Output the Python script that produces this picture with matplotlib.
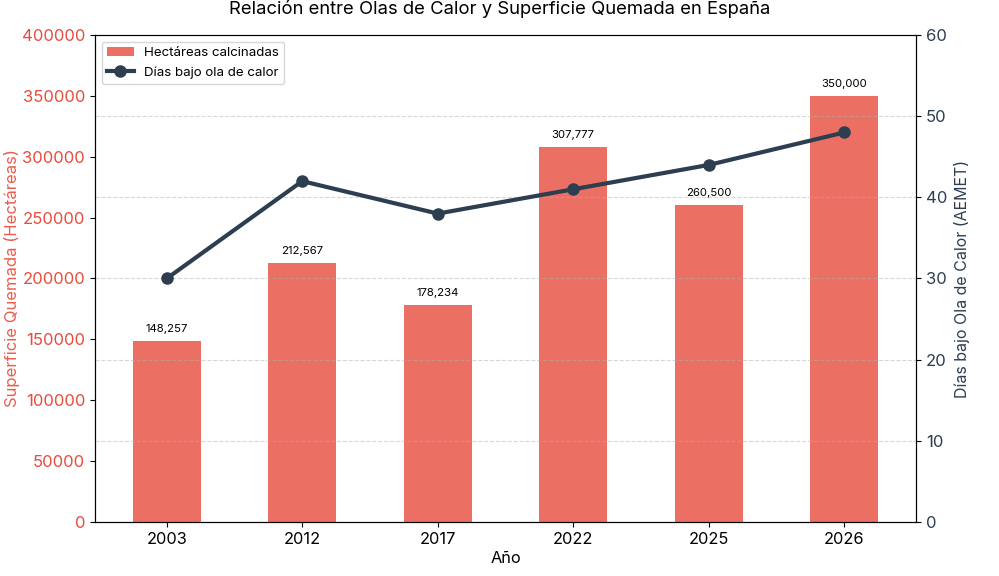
import matplotlib
matplotlib.use("Agg")
import matplotlib.pyplot as plt
import numpy as np

plt.rcParams['font.family'] = ['Inter', 'DejaVu Sans']

years = ['2003', '2012', '2017', '2022', '2025', '2026']
hectareas = [148257, 212567, 178234, 307777, 260500, 350000]
dias_ola = [30, 42, 38, 41, 44, 48]

bar_color = '#e74c3c'
line_color = '#2c3e50'

fig = plt.figure(figsize=(9.99, 5.76), dpi=100)
ax1 = fig.add_axes([0.095, 0.094, 0.822, 0.845])
x = np.arange(len(years))
bars = ax1.bar(x, hectareas, width=0.5, color=bar_color, alpha=0.8, label='Hectáreas calcinadas')
ax1.set_xlim(-0.53, len(years) - 0.47)
ax1.set_ylim(0, 400000)
ax1.set_xticks(x)
ax1.set_xticklabels(years, fontsize=11.8)
ax1.set_xlabel('Año', fontsize=11.8, labelpad=3)
ax1.set_ylabel('Superficie Quemada (Hectáreas)', color=bar_color, alpha=0.9, fontsize=12, labelpad=1)
ax1.tick_params(axis='y', labelcolor=bar_color, labelsize=12)
for xi, v in zip(x, hectareas):
    ax1.text(xi, v + 6000, f'{v:,}', ha='center', va='bottom', fontsize=8.2)

ax2 = ax1.twinx()
ax2.plot(x, dias_ola, color=line_color, linewidth=3, marker='o', markersize=8, label='Días bajo ola de calor')
ax2.set_ylim(0, 60)
ax2.set_ylabel('Días bajo Ola de Calor (AEMET)', color=line_color, fontsize=11.5, labelpad=5)
ax2.tick_params(axis='y', labelcolor=line_color, labelsize=12)
ax2.grid(True, axis='y', linestyle='--', alpha=0.5)

h1, l1 = ax1.get_legend_handles_labels()
h2, l2 = ax2.get_legend_handles_labels()
ax1.legend(h1 + h2, l1 + l2, loc='upper left', fontsize=9.6)

fig.suptitle('Relación entre Olas de Calor y Superficie Quemada en España', fontsize=13.3, y=1.0)

fig.savefig('out.png', dpi=100)
